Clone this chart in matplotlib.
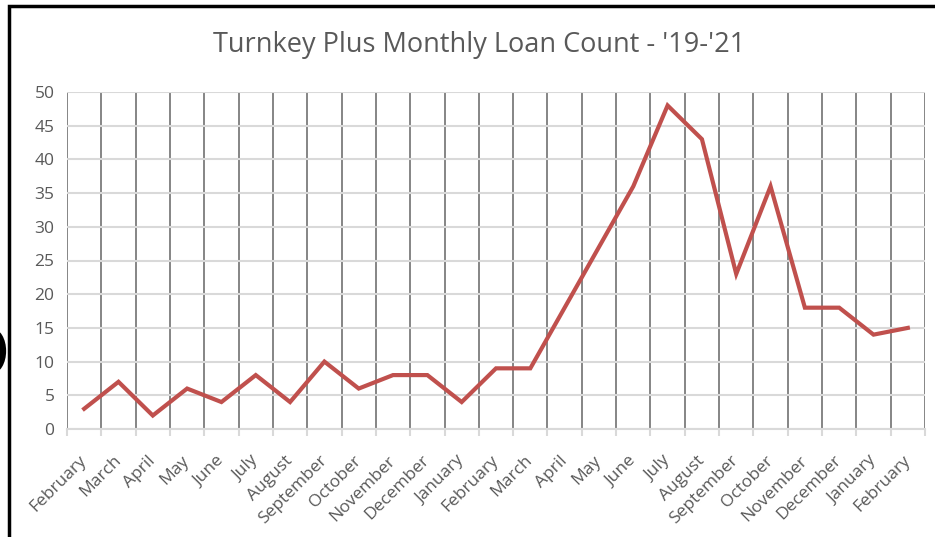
import matplotlib.pyplot as plt
from matplotlib.patches import Rectangle, Ellipse

months = ["February", "March", "April", "May", "June", "July", "August",
          "September", "October", "November", "December", "January",
          "February", "March", "April", "May", "June", "July", "August",
          "September", "October", "November", "December", "January", "February"]
loans = [3, 7, 2, 6, 4, 8, 4, 10, 6, 8, 8, 4,
         9, 9, 18, 27, 36, 48, 43, 23, 36, 18, 18, 14, 15]

W, H = 935, 537
fig = plt.figure(figsize=(W / 100, H / 100), dpi=100)
ax = fig.add_axes([67 / W, 1 - 429 / H, (925 - 67) / W, (429 - 92) / H])

x = list(range(len(loans)))
ax.plot(x, loans, color="#C0504D", lw=3, solid_joinstyle="miter", zorder=3)

ax.set_xlim(-0.5, len(loans) - 0.5)
ax.set_ylim(0, 50)
ax.set_yticks(range(0, 51, 5))
ax.set_xticks(x)
ax.set_xticklabels(months, rotation=45, ha="right", va="center", rotation_mode="anchor")
ax.set_xticks([i - 0.5 for i in range(len(loans) + 1)], minor=True)

ax.grid(axis="y", color="#D9D9D9", lw=1.5)
ax.grid(axis="x", which="minor", color="#858585", lw=1.4)
ax.set_axisbelow(True)

for s in ["top", "right", "left"]:
    ax.spines[s].set_visible(False)
ax.spines["bottom"].set_color("#D9D9D9")
ax.spines["bottom"].set_linewidth(1.5)

ax.tick_params(axis="x", which="major", length=0, pad=21, labelsize=12.5, labelcolor="#595959")
ax.tick_params(axis="x", which="minor", length=5, color="#D9D9D9", width=1.5)
ax.tick_params(axis="y", length=0, pad=9, labelsize=12.5, labelcolor="#595959")
for lab in ax.get_xticklabels() + ax.get_yticklabels():
    lab.set_fontfamily("Open Sans")

fig.text(479 / W, 1 - 45 / H, "Turnkey Plus Monthly Loan Count - '19-'21",
         ha="center", va="center", fontsize=19.5, color="#595959", family="Open Sans")

# chart border (only left and top edges visible in the crop)
fig.patches.append(Rectangle((9 / W, -0.1), 1.2, 1 - 6 / H + 0.1, transform=fig.transFigure,
                             fill=False, edgecolor="black", lw=2.5))

# cut-off dark mark at the left edge of the screenshot
fig.patches.append(Ellipse((-9 / W, 1 - 351 / H), 24 / W, 40 / H, transform=fig.transFigure,
                           fill=False, edgecolor="black", lw=4.5))

fig.savefig("out.png", dpi=100)
